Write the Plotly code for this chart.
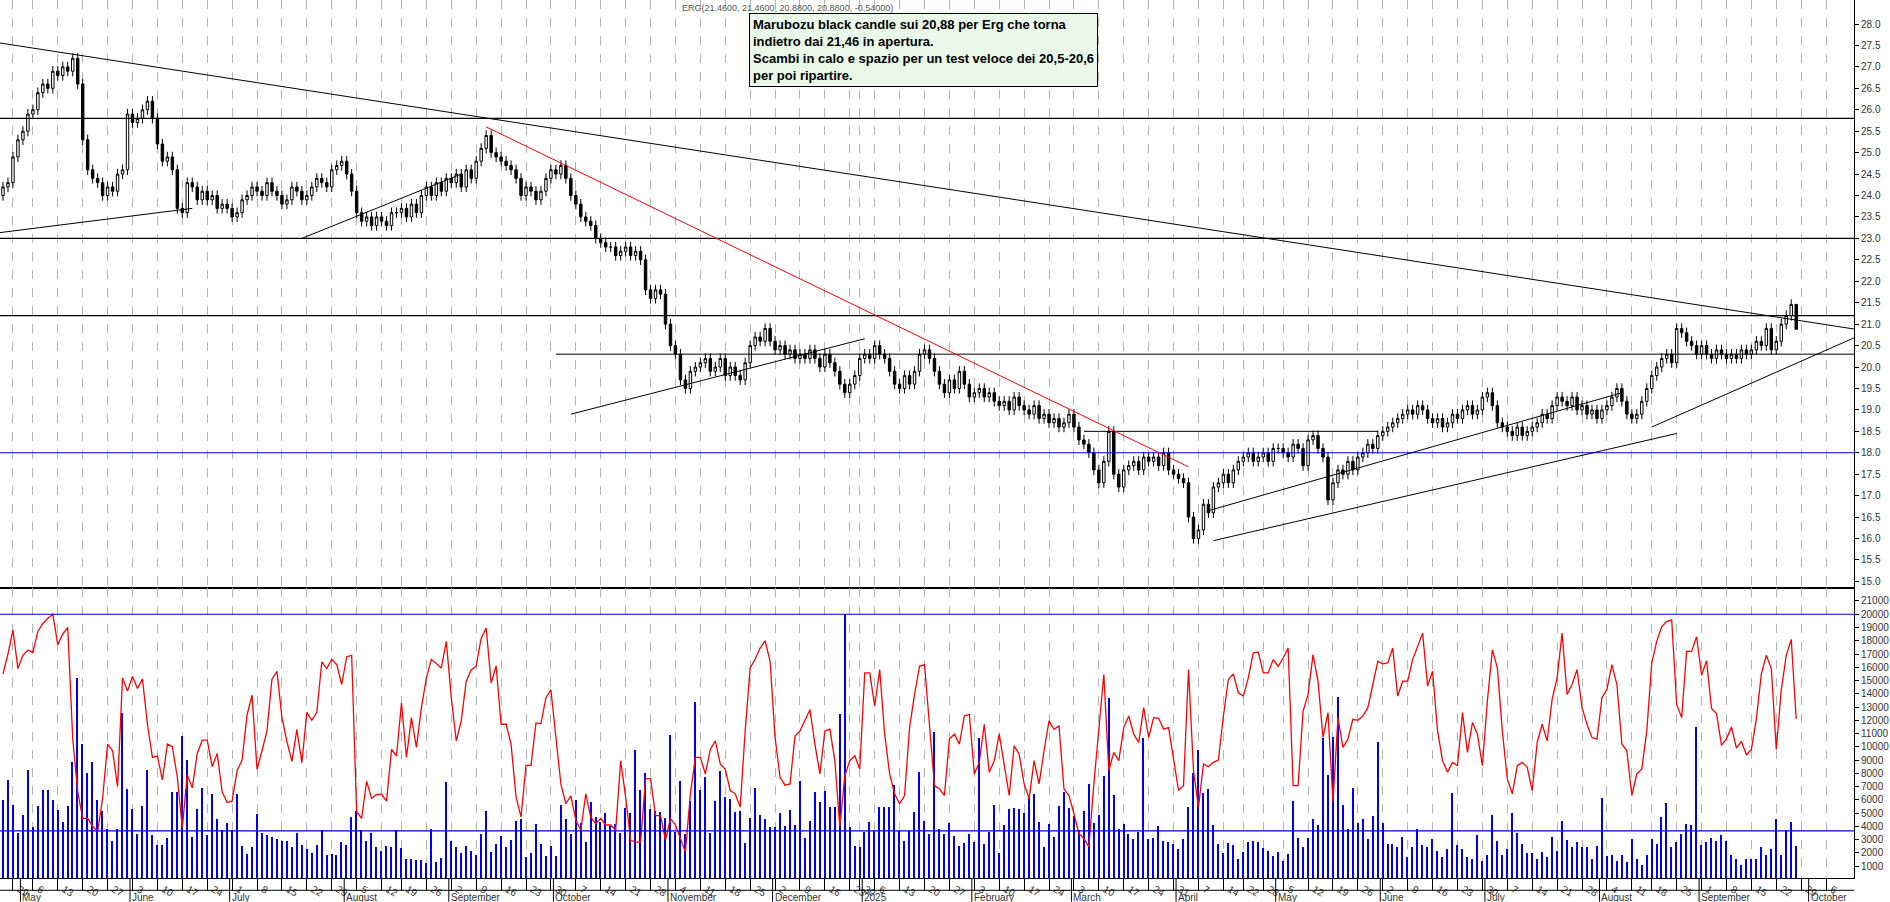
import pandas as pd
import plotly.graph_objects as go
from plotly.subplots import make_subplots

# ---- data: daily closes typed per business day (25 Apr 2024 .. 26 Sep 2025) ----
closes = [24.2, 24.3,
 24.9,25.3,25.6,25.5,25.9, 26.0,26.4,26.6,26.5,26.9, 26.8,27.0,26.9,27.2,26.6, 25.3,24.6,24.4,24.3,24.0,
 24.2,24.1,24.5,24.6,25.9, 25.7,25.8,26.0,26.2,25.8, 25.2,24.8,24.9,24.6,23.7, 23.6,24.3,24.2,23.9,24.1,
 23.9,24.0,23.7,23.8,23.7, 23.5,23.6,23.9,24.0,24.2, 24.1,24.0,24.3,24.1,24.0, 23.8,23.9,24.2,24.1,23.9,
 24.0,24.2,24.4,24.3,24.2, 24.6,24.7,24.8,24.5,24.1, 23.6,23.4,23.5,23.3,23.5, 23.4,23.3,23.6,23.5,23.6,
 23.7,23.5,23.8,23.6,24.0, 24.2,24.0,24.3,24.1,24.4, 24.3,24.5,24.2,24.6,24.4, 24.8,25.1,25.4,25.0,24.9,
 24.8,24.7,24.6,24.4,24.0, 24.2,24.1,23.9,24.1,24.4, 24.6,24.5,24.7,24.4,24.0, 23.8,23.5,23.4,23.3,23.0,
 22.9,22.8,22.8,22.6,22.7, 22.8,22.6,22.7,22.5,21.8, 21.6,21.8,21.7,21.0,20.5, 20.3,19.7,19.5,19.9,20.0,
 20.1,20.2,19.9,20.0,20.2, 19.8,20.0,19.8,19.7,20.1, 20.5,20.7,20.6,20.9,20.6, 20.4,20.5,20.3,20.4,20.2,
 20.3,20.2,20.4,20.2,20.0, 20.3,20.1,19.9,19.6,19.4, 19.6,19.7,19.8,19.6,19.8, 20.2,20.4,20.5,20.3,20.2,
 20.5,20.3,20.2,19.9,19.6, 19.5,19.8,19.6,19.9,20.3, 20.4,20.2,19.9,19.6,19.4, 19.7,19.5,19.9,19.6,19.3,
 19.4,19.5,19.3,19.4,19.2, 19.1,19.2,19.0,19.3,19.1, 19.0,18.9,19.1,18.8,18.9, 18.7,18.8,18.6,18.7,18.9,
 18.6,18.3,18.2,18.0,17.6, 17.3,17.8,18.5,17.5,17.2, 17.6,17.7,17.8,17.6,17.9, 17.8,17.9,17.7,18.0,17.6,
 17.5,17.4,17.3,16.5,16.0, 16.2,16.8,16.6,17.2,17.3, 17.5,17.3,17.6,17.8,17.7, 17.7,17.9,18.0,17.8,17.9,
 18.0,17.8,18.1,18.0,18.1, 18.0,17.9,18.2,18.1,17.7, 18.3,18.4,18.1,17.9,16.9, 17.3,17.6,17.5,17.8,17.6,
 17.9,18.0,18.2,18.1,18.4, 18.5,18.6,18.7,18.8,18.9, 19.0,18.9,19.1,19.0,18.8, 18.7,18.8,18.6,18.7,18.9,
 18.8,19.0,19.1,18.9,19.0, 19.3,19.4,19.1,18.7,18.6, 18.5,18.4,18.6,18.4,18.5, 18.6,18.7,18.9,18.8,19.1,
 19.3,19.2,19.1,19.3,19.0, 19.1,18.9,19.0,18.8,19.0, 19.1,19.3,19.5,19.2,18.9, 18.8,18.9,19.2,19.5,19.6,
 19.8,20.0,20.2,20.3,20.1, 20.9,20.8,20.6,20.5,20.3, 20.5,20.3,20.2,20.4,20.3, 20.2,20.3,20.2,20.4,20.3,
 20.4,20.6,20.5,20.9,20.4, 20.6,21.0,21.2,21.46,20.88]
first_open = 24.0
last_candle = [21.46, 21.46, 20.88, 20.88]  # O H L C
holidays = ["2024-05-01", "2024-08-15", "2024-12-24", "2024-12-25", "2024-12-26", "2024-12-31",
            "2025-01-01", "2025-04-18", "2025-04-21", "2025-05-01", "2025-08-15"]

# volume and oscillator, one value per trading session
volume = [6000,7500,5600,3500,4800,8200,3900,5500,6700,6700, 6000,5200,4300,5500,8800,15200,10200,8000,8800,6000,
 5100,3800,2900,3800,12500,6800,5300,3400,5500,8200, 3300,2600,2600,3100,6600,6600,10800,9000,3200,5300,
 6900,3300,6400,4500,3700,4200,3700,6400,2500,1900, 2400,4900,3500,3300,3200,3000,2900,2900,2400,3500,
 2600,2300,2000,2600,3700,1800,1900,1800,2800,2600, 4700,5100,3700,2900,3500,2400,2100,2500,2400,3700,
 2375,1525,1525,1450,1450,1200,3750,1275, 1625,7325,2900,2400,2000,2525,2150,1825,3375,5150,
 2075,2650,3275,2400,2950,4400,4500,1650,2000,4150, 2650,1775,2525,1775,5575,4500,3400,6000,4200,2825,
 5825,4700,4275,4950,4025,4150,3450,5325,5000,9750, 6700,8000,5250,5150,5075,4575,10900,3575,7400,3375,
 5900,13325,6750,7700,3500,5900,8150,6200,6075,5075, 5150,2750,4575,6900,4825,4500,3950,3950,5000,4000,
 5200,4075,7400,3075,4400,6575,5825,
 6650,5400,5400,12450,20000,3900,2525,2400,3575,4325, 3650,5450,5400,5450,7075,3650,2900,3650,5075,8075,
 4400,3400,11075,3775,3400,4250,3275,2525,2750,3375, 2825,10625,2650,3575,5575,2000,4075,5250,5375,5300,
 5000,6125,6450,4325,2450,4175,3200,5525,6575,5375, 4775,3700,5150,7200,4250,4825,7775,13650,6375,3775,
 4175,3425,3050,3575,10625,3000,3075,4025,2875,2825, 2625,2250,3000,5450,8000,9750,6500,6800,4100,2625,
 1950,2750,2550,1500,2025,2775,
 2900,2825,2375,2150,1775,2075,1400,1875,5900,3075, 2450,3075,4500,4100,10650,7825,10700,13700,5575,3750,
 6875,4250,4500,3000,4775,10325,4250,2675,2675,2450, 3200,1650,2400,3750,2600,2450,3000,2150,1650,2300,
 6500,2600,2300,1700,1550,3350,1400,1850,4850,2900, 1850,2300,5000,3500,2675,2000,2000,1550,2075,1700,
 3200,2150,4400,2975,2450,2825,2450,2450,1550,2525, 6125,1775,1850,1400,1850,1325,3050,1550,1025,1850,
 3050,2675,4700,5750,2450,2825,3425,4175,
 4100,11500,2600,2800,3100,2900,3300,2900,1800,1550,1050,1550,1550,1550,2450,1850,2300,4500,1800,3700,4300,2500]

oscillator = [15500,17000,18800,15900,16900,17300,17100,18700,19300,19700, 20000,17700,18500,19000,10600,6600,4600,4600,4000,3600,
 6100,10200,9700,7000,15200,14200,15300,14400,15100,11700, 9200,9300,7500,10200,10000,7700,3900,7900,6900,9500,
 10500,10500,8500,9500,6600,5800,5900,8200,9000,12400, 13900,8300,9700,11200,15100,15700,12200,10400,8900,11300,
 8800,12600,12000,12600,16400,15900,16600,16200,14700,16800, 16900,5100,4600,7400,6100,6400,6400,5900,9800,9300,
 13300,9200,12200,9950,12950,15200,16600,16300, 15950,17950,13700,10450,11950,14950,15800,16100,18200,18950,
 14800,16100,11700,11700,10200,6200,4700,8600,8600,11800, 11750,13700,14300,10700,7200,5700,6300,4450,3700,6450,
 4700,4200,4600,4100,4100,3700,8950,6200,2950,2800, 2800,7600,7600,4800,4800,2950,4600,4100,3050,2050,
 6450,9200,9200,7950,9800,10450,8700,8300,6700,6450, 5450,11200,15950,16600,17450,18000,16450,10700,7700,7100,
 7200,10800,11200,11950,12800,10200,7950,
 11200,11325,8950,3950,7825,8950,9325,8325,15575,15575, 13075,15825,10950,7950,6450,5700,6325,11450,13950,16075,
 16200,11450,7075,6825,6325,10575,10950,10200,12325,12450, 7950,8825,11700,8075,8950,10950,8700,6325,10075,9450,
 7200,6075,8950,7200,9700,11950,11325,11575,6825,6325, 4950,3450,3075,2450,7200,11450,15450,8200,9575,8950,
 11450,12325,10950,10325,12950,10700,12200,12150,11325,11450, 9200,6700,7075,15825,8200,5450,8700,8500,8825,9000,
 12325,15075,15500,14075,13825,15200,
 17075,17150,15575,15575,16575,16075,16700,17450,7075,7075, 12700,13950,16950,14950,10700,12575,5825,12200,9950,10575,
 12075,12000,12325,12950,14700,16450,16250,16325,17450,13825, 14950,14950,16575,17575,18575,14575,15700,11200,8950,8075,
 8825,8575,12575,9575,11825,10950,8575,13450,17325,15950, 11200,7575,6450,8575,8825,8450,6700,10325,11700,10450,
 13575,15200,18575,13950,14700,15825,12950,11700,10700,10575, 13700,14325,16200,14700,10200,9700,6325,7950,8325,11200,
 16325,17950,19075,19450,19575,13200,12200,17200,
 17200,18300,15400,16500,12900,12500,10100,10600,11500,9900,10400,9400,9800,12100,15500,16900,15900,9800,14300,16900,18100,12100]

price_levels = [25.8, 23.0, 21.2]
support_level = 18.0
volume_levels = [20000, 3650]
# trend lines: (x0 session index, price0, x1 session index, price1)
black_lines = [(-3, 27.6, 372, 20.88), (-3, 23.1, 38, 23.7), (60, 23.0, 92, 24.5),
               (114, 18.9, 173, 20.66), (243, 15.95, 336, 18.45), (242, 16.65, 325, 19.4),
               (331, 18.6, 372, 20.7), (111, 20.3, 372, 20.3), (217, 18.5, 276, 18.5)]
red_line = (97, 25.6, 238, 17.67)

start_date = "2024-04-25"
end_date = "2025-09-26"
axis_end_date = "2025-10-10"
month_names = {1: "2025", 2: "February", 3: "March", 4: "April", 5: "May", 6: "June", 7: "July",
               8: "August", 9: "September", 10: "October", 11: "November", 12: "December"}
title_text = "ERG(21.4600, 21.4600, 20.8800, 20.8800, -0.54000)"
note_text = ("<b>Marubozu black candle sui 20,88 per Erg che torna<br>indietro dai 21,46 in apertura.<br>"
             "Scambi in calo e spazio per un test veloce dei 20,5-20,6<br>per poi ripartire.</b>")

# ---- build ----
hol = pd.to_datetime(holidays)
bdays = pd.bdate_range(start_date, end_date)
keep = [d not in hol for d in bdays]
cl = [c for c, k in zip(closes, keep) if k]
trade_dates = [d for d, k in zip(bdays, keep) if k]
future = [d for d in pd.bdate_range(end_date, axis_end_date)[1:]]
all_dates = trade_dates + future
n = len(cl)
idx = list(range(n))
opens = [first_open] + cl[:-1]
opens[-1] = last_candle[0]
highs = [max(o, c) + 0.12 for o, c in zip(opens, cl)]
lows = [min(o, c) - 0.12 for o, c in zip(opens, cl)]
highs[-1], lows[-1] = last_candle[1], last_candle[2]
xmax = len(all_dates) + 0.6

weekstarts = [i for i, d in enumerate(all_dates) if i > 0 and d.isocalendar()[1] != all_dates[i - 1].isocalendar()[1]]
week_text = [str(all_dates[i].day) for i in weekstarts]
month_starts = [i for i, d in enumerate(all_dates) if i > 0 and d.month != all_dates[i - 1].month]

fig = make_subplots(rows=2, cols=1, shared_xaxes=True, vertical_spacing=0, row_heights=[0.67, 0.33])
fig.add_trace(go.Candlestick(x=idx, open=opens, high=highs, low=lows, close=cl,
                             increasing=dict(line=dict(color="black", width=1), fillcolor="white"),
                             decreasing=dict(line=dict(color="black", width=1), fillcolor="black"),
                             whiskerwidth=0, showlegend=False), row=1, col=1)
fig.add_trace(go.Bar(x=list(range(len(volume))), y=volume, width=0.3, marker_color="#0000ee",
                     marker_line_width=0, showlegend=False), row=2, col=1)
fig.add_trace(go.Scatter(x=list(range(len(oscillator))), y=oscillator, mode="lines",
                         line=dict(color="#ff0000", width=1.3), showlegend=False), row=2, col=1)

for lv in price_levels:
    fig.add_shape(type="line", xref="x", yref="y", x0=-3, x1=xmax, y0=lv, y1=lv,
                  line=dict(color="black", width=1.2))
fig.add_shape(type="line", xref="x", yref="y", x0=-3, x1=xmax, y0=support_level, y1=support_level,
              line=dict(color="#0000dd", width=1.2))
for lv in volume_levels:
    fig.add_shape(type="line", xref="x2", yref="y2", x0=-3, x1=xmax, y0=lv, y1=lv,
                  line=dict(color="#0000dd", width=1.2))
for x0, y0, x1, y1 in black_lines:
    fig.add_shape(type="line", xref="x", yref="y", x0=x0, x1=x1, y0=y0, y1=y1,
                  line=dict(color="black", width=1))
fig.add_shape(type="line", xref="x", yref="y", x0=red_line[0], x1=red_line[2], y0=red_line[1],
              y1=red_line[3], line=dict(color="#ff0000", width=1))

axfont = dict(size=10, color="#333", family="Arial")
xcommon = dict(range=[-0.6, xmax], tickvals=weekstarts, showgrid=True, gridcolor="#b4b4b4",
               griddash="dash", gridwidth=1, zeroline=False, showline=True, linecolor="black",
               mirror=True, rangeslider=dict(visible=False))
fig.update_xaxes(**xcommon, showticklabels=False, row=1, col=1)
fig.update_xaxes(**xcommon, ticktext=week_text, showticklabels=True, ticks="outside",
                 ticklen=12, tickcolor="black", ticklabelshift=6, ticklabelstandoff=-11,
                 tickfont=axfont, row=2, col=1)
fig.update_yaxes(range=[14.84, 28.56], side="right", tickvals=[15 + 0.5 * k for k in range(27)],
                 tickformat=".1f", showgrid=False, zeroline=False, showline=True, linecolor="black",
                 mirror=True, ticks="outside", ticklen=4, tickcolor="black", tickfont=axfont,
                 row=1, col=1)
fig.update_yaxes(range=[100, 21960], side="right", tickvals=[1000 * k for k in range(1, 22)],
                 tickformat="d", showgrid=False, zeroline=False, showline=True, linecolor="black",
                 mirror=True, ticks="outside", ticklen=4, tickcolor="black", tickfont=axfont,
                 row=2, col=1)

for i in month_starts:
    fig.add_annotation(x=i - 0.5, xref="x2", y=0, yref="paper", yshift=-12,
                       text=month_names[all_dates[i].month], showarrow=False, xanchor="left",
                       yanchor="top", font=axfont)
    fig.add_shape(type="line", xref="x2", yref="paper", x0=i - 0.5, x1=i - 0.5, y0=0, y1=-0.027,
                  line=dict(color="black", width=1))
fig.add_shape(type="line", xref="paper", yref="paper", x0=0, x1=1, y0=-0.014, y1=-0.014,
              line=dict(color="black", width=1))
fig.add_annotation(x=0.367, xref="paper", y=1, yref="paper", text=title_text, showarrow=False,
                   xanchor="left", yanchor="top", yshift=-1, font=dict(size=9, color="#555", family="Arial"))
fig.add_annotation(x=0.404, xref="paper", y=0.985, yref="paper", text=note_text, showarrow=False,
                   xanchor="left", yanchor="top", align="left", bgcolor="#eaf8ea",
                   bordercolor="black", borderwidth=1, borderpad=3,
                   font=dict(size=13, color="black", family="Liberation Sans, Arial"))

fig.update_layout(width=1890, height=902, margin=dict(l=0, r=36, t=0, b=24),
                  plot_bgcolor="white", paper_bgcolor="white", bargap=0)
fig.write_html("out.html", config={"displayModeBar": False},
               post_script="document.body.style.margin='0';document.body.style.overflow='hidden';")
